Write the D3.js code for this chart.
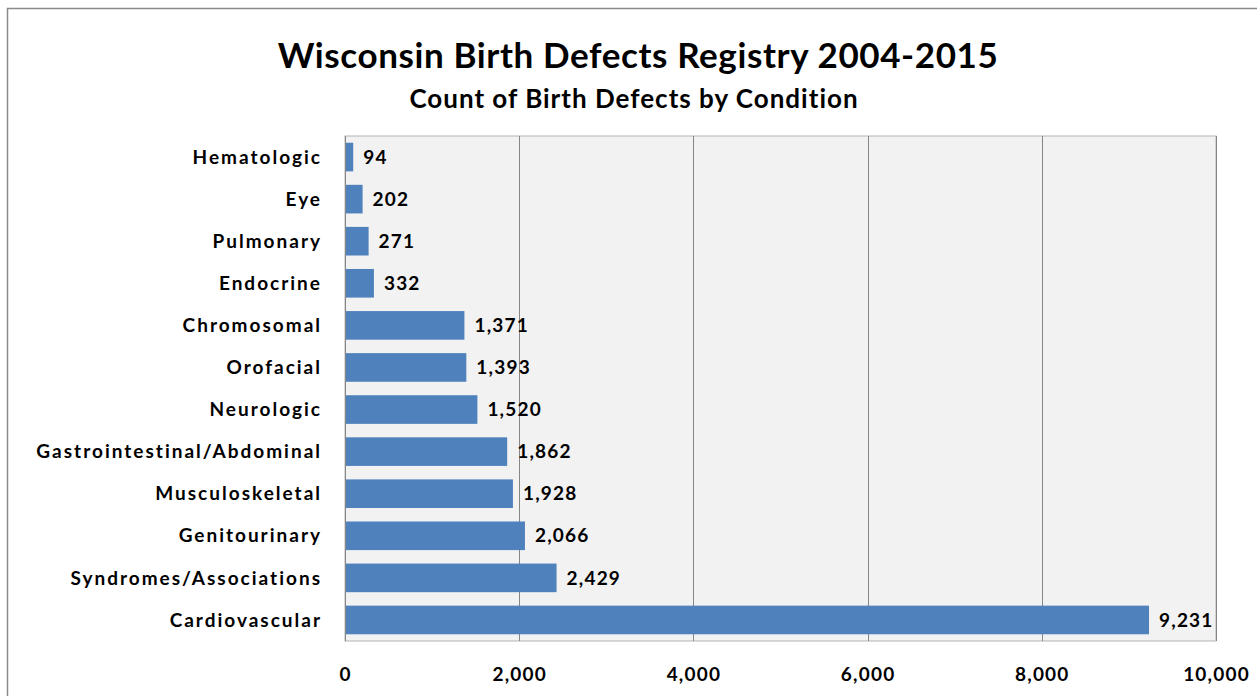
<!DOCTYPE html>
<html>
<head>
<meta charset="utf-8">
<script src="https://d3js.org/d3.v7.min.js"></script>
<style>
  body { margin: 0; background: #ffffff; }
  svg { display: block; }
  .lbl { font-family: Lato, "Open Sans", sans-serif; font-weight: bold; fill: #000; }
  .cat { letter-spacing: 2px; }
  .num { letter-spacing: 1.2px; }
</style>
</head>
<body>
<svg id="chart" width="1257" height="696"></svg>
<script>
  // Chart data
  var TITLE = "Wisconsin Birth Defects Registry 2004-2015";
  var SUBTITLE = "Count of Birth Defects by Condition";
  var CONDITIONS = [
    "Hematologic", "Eye", "Pulmonary", "Endocrine", "Chromosomal", "Orofacial",
    "Neurologic", "Gastrointestinal/Abdominal", "Musculoskeletal", "Genitourinary",
    "Syndromes/Associations", "Cardiovascular"
  ];
  var COUNTS = [94, 202, 271, 332, 1371, 1393, 1520, 1862, 1928, 2066, 2429, 9231];
  var TICKS = [0, 2000, 4000, 6000, 8000, 10000];

  // Layout
  var PLOT_LEFT = 345;
  var PLOT_RIGHT = 1216;
  var PLOT_TOP = 136;
  var PLOT_BOTTOM = 641;
  var BAR_COLOR = "#4f81bd";

  var svg = d3.select("#chart");
  var fmt = d3.format(",");

  // outer frame (cut off at right and bottom)
  svg.append("rect")
    .attr("x", 7.5)
    .attr("y", 8.5)
    .attr("width", 1300)
    .attr("height", 800)
    .attr("fill", "#ffffff")
    .attr("stroke", "#8a8a8a")
    .attr("stroke-width", 1.5);

  // titles
  svg.append("text")
    .attr("class", "lbl")
    .attr("x", 638)
    .attr("y", 68)
    .attr("text-anchor", "middle")
    .style("font-size", "35px")
    .style("letter-spacing", "0.6px")
    .text(TITLE);

  svg.append("text")
    .attr("class", "lbl")
    .attr("x", 634)
    .attr("y", 108)
    .attr("text-anchor", "middle")
    .style("font-size", "26px")
    .style("letter-spacing", "1px")
    .text(SUBTITLE);

  var x = d3.scaleLinear()
    .domain([0, 10000])
    .range([PLOT_LEFT, PLOT_RIGHT]);

  var y = d3.scaleBand()
    .domain(CONDITIONS)
    .range([PLOT_TOP, PLOT_BOTTOM])
    .paddingInner(0.32)
    .paddingOuter(0.16);

  // plot area
  svg.append("rect")
    .attr("x", PLOT_LEFT)
    .attr("y", PLOT_TOP)
    .attr("width", PLOT_RIGHT - PLOT_LEFT)
    .attr("height", PLOT_BOTTOM - PLOT_TOP)
    .attr("fill", "#f2f2f2")
    .attr("stroke", "#b4b4b4")
    .attr("stroke-width", 1);

  // gridlines
  svg.append("g")
    .selectAll("line")
    .data(TICKS.slice(1))
    .enter().append("line")
      .attr("x1", d => Math.round(x(d)) + 0.5)
      .attr("x2", d => Math.round(x(d)) + 0.5)
      .attr("y1", PLOT_TOP)
      .attr("y2", PLOT_BOTTOM)
      .attr("stroke", "#868686")
      .attr("stroke-width", 1);

  // bars
  var data = CONDITIONS.map((c, i) => ({ name: c, value: COUNTS[i] }));

  svg.append("g")
    .selectAll("rect")
    .data(data)
    .enter().append("rect")
      .attr("x", x(0))
      .attr("y", d => y(d.name))
      .attr("width", d => x(d.value) - x(0))
      .attr("height", y.bandwidth())
      .attr("fill", BAR_COLOR);

  // left axis line
  svg.append("line")
    .attr("x1", PLOT_LEFT + 0.5)
    .attr("x2", PLOT_LEFT + 0.5)
    .attr("y1", PLOT_TOP)
    .attr("y2", PLOT_BOTTOM)
    .attr("stroke", "#868686");

  // value labels
  svg.append("g")
    .selectAll("text")
    .data(data)
    .enter().append("text")
      .attr("class", "lbl num")
      .attr("x", d => x(d.value) + 10)
      .attr("y", d => y(d.name) + y.bandwidth() / 2)
      .attr("dy", "0.35em")
      .style("font-size", "19px")
      .text(d => fmt(d.value));

  // category axis
  var yAxis = svg.append("g")
    .attr("transform", "translate(" + PLOT_LEFT + ",0)")
    .call(d3.axisLeft(y).tickSize(0).tickPadding(23));
  yAxis.select(".domain").remove();
  yAxis.selectAll("text")
    .attr("class", "lbl cat")
    .attr("fill", "#000")
    .style("font-size", "19px")
    .attr("dy", "0.35em");

  // value axis
  var xAxis = svg.append("g")
    .attr("transform", "translate(0," + PLOT_BOTTOM + ")")
    .call(d3.axisBottom(x).tickValues(TICKS).tickFormat(fmt).tickSize(0).tickPadding(27));
  xAxis.select(".domain").remove();
  xAxis.selectAll("text")
    .attr("class", "lbl num")
    .attr("fill", "#000")
    .style("font-size", "19px");
</script>
</body>
</html>
